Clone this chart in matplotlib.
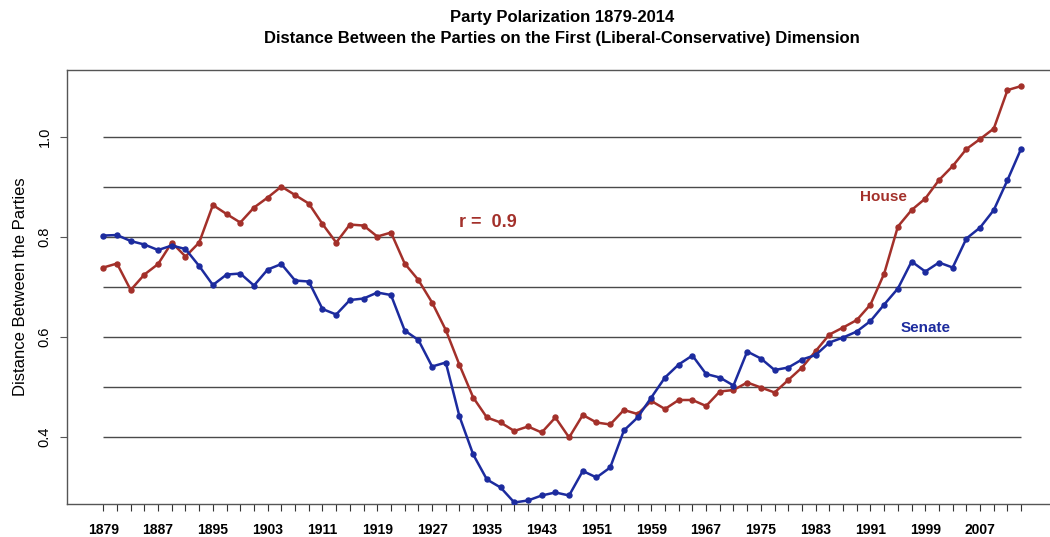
import matplotlib.pyplot as plt
import numpy as np

plt.rcParams['font.family'] = ['Liberation Sans', 'DejaVu Sans']

# Congress start years (every 2 years)
years = np.arange(1879, 2014, 2)

house = [0.739, 0.747, 0.694, 0.725, 0.746, 0.789, 0.761, 0.789, 0.864, 0.846,
         0.829, 0.859, 0.879, 0.901, 0.884, 0.867, 0.826, 0.789, 0.825, 0.823,
         0.801, 0.809, 0.747, 0.714, 0.669, 0.614, 0.544, 0.479, 0.439, 0.429,
         0.412, 0.421, 0.409, 0.439, 0.399, 0.444, 0.429, 0.425, 0.454, 0.446,
         0.472, 0.456, 0.474, 0.474, 0.462, 0.491, 0.494, 0.509, 0.499, 0.489,
         0.514, 0.539, 0.572, 0.605, 0.619, 0.634, 0.665, 0.727, 0.821, 0.854,
         0.877, 0.914, 0.942, 0.976, 0.996, 1.017, 1.094, 1.102]

senate = [0.803, 0.804, 0.792, 0.785, 0.774, 0.783, 0.776, 0.742, 0.704, 0.725,
          0.727, 0.703, 0.735, 0.746, 0.713, 0.711, 0.656, 0.645, 0.674, 0.677,
          0.689, 0.684, 0.613, 0.594, 0.541, 0.549, 0.441, 0.365, 0.315, 0.299,
          0.269, 0.273, 0.283, 0.289, 0.283, 0.332, 0.319, 0.339, 0.413, 0.439,
          0.479, 0.519, 0.545, 0.563, 0.526, 0.519, 0.503, 0.571, 0.557, 0.534,
          0.539, 0.555, 0.564, 0.589, 0.599, 0.611, 0.632, 0.665, 0.697, 0.751,
          0.731, 0.749, 0.739, 0.797, 0.819, 0.854, 0.914, 0.977]

grid_levels = [0.4, 0.5, 0.6, 0.7, 0.8, 0.9, 1.0]
ytick_vals = [0.4, 0.6, 0.8, 1.0]
label_years = np.arange(1879, 2008, 8)

red = "#a3302a"
blue = "#1c2b9e"

fig = plt.figure(figsize=(10.5, 5.37), dpi=100)
ax = fig.add_axes([0.0638, 0.0615, 0.944, 0.808])

ax.hlines(grid_levels, years[0], years[-1], color="#4a4a4a", lw=1.0, zorder=1)

ax.plot(years, house, color=red, lw=1.8, marker="o", ms=3.6, zorder=3)
ax.plot(years, senate, color=blue, lw=1.8, marker="o", ms=3.6, zorder=3)

ax.text(1935.1, 0.83, "r =  0.9", color=red, fontsize=13, fontweight="bold",
        ha="center", va="center")
ax.text(1992.9, 0.88, "House", color=red, fontsize=11, fontweight="bold",
        ha="center", va="center")
ax.text(1999.0, 0.618, "Senate", color=blue, fontsize=11, fontweight="bold",
        ha="center", va="center")

ax.set_xlim(1873.7, 2018.4)
ax.set_ylim(0.266, 1.134)

ax.set_xticks(years)
ax.set_xticklabels([str(y) if y in label_years else "" for y in years],
                   fontweight="bold", fontsize=10)
ax.tick_params(axis="x", length=5, pad=9, color="#333333")
ax.set_yticks(ytick_vals)
ax.set_yticklabels(["0.4", "0.6", "0.8", "1.0"], rotation=90, va="center",
                   fontsize=10.5)
ax.tick_params(axis="y", length=5, pad=6, color="#555555")

for s in ax.spines.values():
    s.set_color("#555555")
    s.set_linewidth(1.0)

ax.set_ylabel("Distance Between the Parties", fontsize=12, labelpad=7)

fig.text(0.535, 0.9665, "Party Polarization 1879-2014", fontsize=12,
         fontweight="bold", ha="center", va="center")
fig.text(0.535, 0.929,
         "Distance Between the Parties on the First (Liberal-Conservative) Dimension",
         fontsize=12, fontweight="bold", ha="center", va="center")

fig.savefig("out.png", dpi=100)
